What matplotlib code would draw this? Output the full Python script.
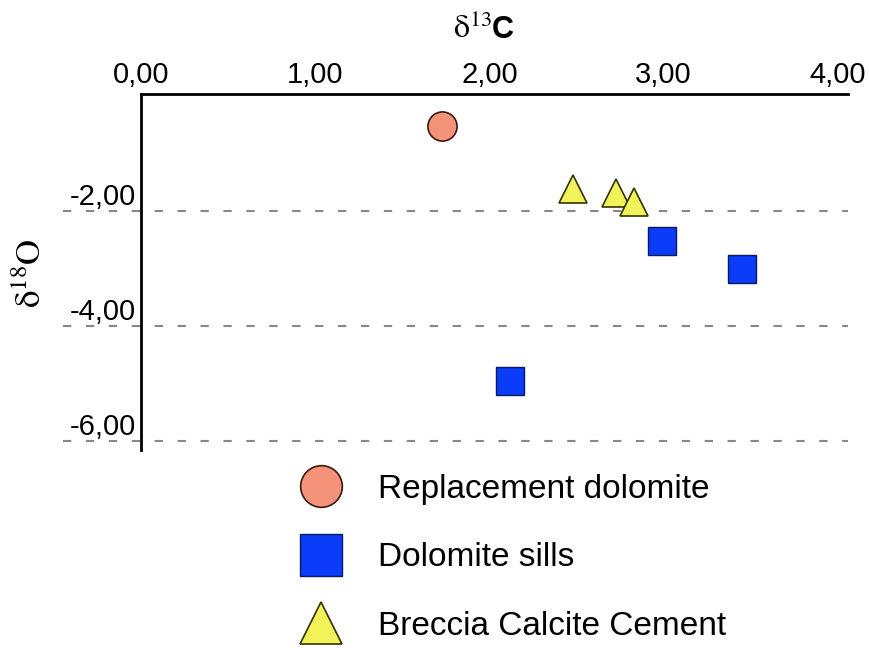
import matplotlib
matplotlib.use('Agg')
from matplotlib import pyplot as plt
from matplotlib.lines import Line2D

plt.rcParams['font.family'] = ['Liberation Sans', 'DejaVu Sans']
plt.rcParams['mathtext.fontset'] = 'stix'

# d13C (x) and d18O (y) per group
replacement_x = [1.73]
replacement_y = [-0.53]
sills_x = [2.99, 3.45, 2.12]
sills_y = [-2.52, -3.01, -4.96]
breccia_x = [2.48, 2.73, 2.83]
breccia_y = [-1.62, -1.69, -1.84]

x_ticks = [0, 1, 2, 3, 4]
y_ticks = [-2, -4, -6]
labels = ['Replacement dolomite', 'Dolomite sills', 'Breccia Calcite Cement']

circle_col = '#F4927A'
square_col = '#0A3CFA'
tri_col = '#F2F25A'

fig = plt.figure(figsize=(8.7, 6.48), dpi=100)
ax = fig.add_axes([0.0724, 0.3056, 0.9023, 0.549])

ax.set_xlim(-0.45, 4.06)
ax.set_ylim(-6.16, 0.03)

ax.plot(replacement_x, replacement_y, 'o', ms=21, mfc=circle_col, mec='#3a1a10', mew=1.2, ls='none')
ax.plot(sills_x, sills_y, 's', ms=20, mfc=square_col, mec='#0a1a60', mew=1.0, ls='none')
ax.plot(breccia_x, breccia_y, '^', ms=20, mfc=tri_col, mec='#333300', mew=1.2, ls='none')

for s in ['right', 'bottom']:
    ax.spines[s].set_visible(False)
ax.spines['left'].set_position(('data', 0))
ax.spines['left'].set_bounds(-6.16, 0.03)
ax.spines['top'].set_bounds(0, 4.06)
ax.spines['left'].set_linewidth(2)
ax.spines['top'].set_linewidth(2)

ax.xaxis.tick_top()
ax.set_xticks(x_ticks)
ax.set_xticklabels(['{:.2f}'.format(v).replace('.', ',') for v in x_ticks])
ax.set_yticks(y_ticks)
ax.set_yticklabels(['{:.2f}'.format(v).replace('.', ',') for v in y_ticks])
ax.tick_params(axis='both', length=0, labelsize=21)
ax.tick_params(axis='x', pad=4)
ax.tick_params(axis='y', pad=4)
for lab in ax.get_yticklabels():
    lab.set_verticalalignment('bottom')

ax.grid(axis='y', ls=(0, (4, 7)), color='#888888', lw=1.5)
ax.set_axisbelow(True)

# axis titles
fig.text(492 / 870, 1 - 38 / 648, r'$\mathrm{δ}^{13}$', ha='right', va='baseline', fontsize=23)
fig.text(492 / 870, 1 - 38 / 648, 'C', ha='left', va='baseline', fontsize=22, fontweight='bold')
fig.text(31 / 870, 1 - 273 / 648, r'$\mathrm{δ}^{18}\mathrm{O}$', rotation=90,
         ha='center', va='center', fontsize=25)

handles = [
    Line2D([], [], marker='o', ms=30, mfc=circle_col, mec='#3a1a10', mew=1.2, ls='none'),
    Line2D([], [], marker='s', ms=30, mfc=square_col, mec='#0a1a60', mew=1.0, ls='none'),
    Line2D([], [], marker='^', ms=30, mfc=tri_col, mec='#333300', mew=1.2, ls='none'),
]
fig.legend(handles, labels, loc='upper left', bbox_to_anchor=(288 / 870, 1 - 474 / 648),
           frameon=False, fontsize=24, labelspacing=1.12, handlelength=2.0,
           handletextpad=0.7, borderpad=0, borderaxespad=0)

fig.savefig('out.png', dpi=100)
